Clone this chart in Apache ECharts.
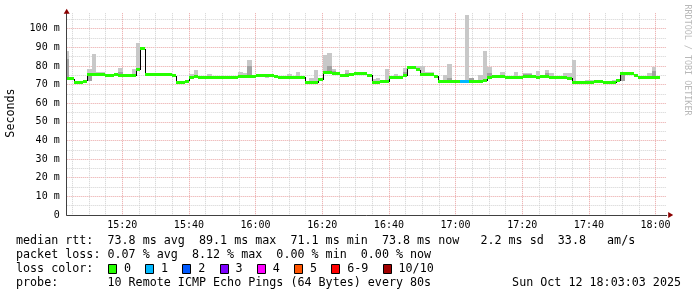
<!DOCTYPE html>
<html><head><meta charset="utf-8">
<script src="https://cdn.jsdelivr.net/npm/echarts@6/dist/echarts.min.js"></script>
<style>html,body{margin:0;padding:0;background:#fff;}#c{width:697px;height:297px;}</style>
</head><body><div id="c"></div>
<script>
// ---- data (seconds after 15:00:00; one sample every 80 s) ----
const sampleStart = 168;      // first sample bucket starts 15:02:48
const sampleStep = 80;
const axisStart = 200;        // 15:03:20
const axisEnd = 11000;        // 18:03:20

const median = [73.5,73.0,71.1,71.1,71.8,75.5,75.5,75.5,75.5,74.6,
 74.6,75.2,74.8,74.8,74.8,74.8,78.0,89.1,75.5,75.5,
 75.5,75.5,75.5,75.5,74.6,71.1,71.1,71.8,74.0,74.4,
 73.8,73.8,73.8,73.8,73.8,73.8,73.8,73.8,73.8,74.2,
 74.2,74.2,74.2,75.1,75.1,75.1,75.1,74.3,73.8,73.8,
 73.8,73.8,73.8,73.8,71.1,71.1,71.1,72.5,76.6,76.3,
 75.8,75.8,75.0,75.0,75.4,75.8,75.8,75.8,75.1,71.2,
 71.1,71.5,71.5,74.0,74.0,74.0,74.8,78.9,78.9,78.0,
 75.2,75.2,75.2,74.5,71.4,71.4,71.4,71.4,71.4,71.4,
 71.4,71.4,71.4,71.4,72.1,73.9,74.2,74.2,74.2,73.9,
 73.9,73.9,74.0,74.5,74.5,74.2,73.7,74.2,74.2,73.9,
 73.9,73.9,73.9,73.3,71.2,71.2,71.2,71.3,71.3,71.6,
 71.6,71.1,71.1,71.1,72.0,75.9,75.9,75.8,74.6,73.8,
 73.8,73.8,73.8,73.8];

const pingMax = [88.0,73.0,71.1,71.1,71.8,78.4,86.4,76.8,76.5,74.6,
 74.6,76.0,78.9,74.8,74.8,78.3,92.3,89.1,75.5,75.5,
 75.5,75.5,75.5,75.5,74.6,71.1,71.1,71.8,75.5,77.8,
 73.8,73.8,75.6,73.8,73.8,73.8,73.8,73.8,73.8,77.0,
 76.0,83.2,74.2,75.1,75.1,75.1,75.1,74.3,73.8,73.8,
 75.8,73.8,77.0,74.5,71.1,73.5,77.8,72.5,85.9,87.1,
 78.6,75.8,75.0,77.8,75.4,75.8,76.8,76.5,75.1,73.0,
 73.4,72.7,78.4,74.0,75.9,74.0,79.0,78.9,78.9,80.2,
 80.0,77.0,77.0,74.5,71.4,75.0,81.0,71.4,71.4,71.4,
 107.3,73.7,71.4,75.2,88.0,79.4,74.2,75.1,76.8,73.9,
 73.9,76.9,74.0,76.2,76.2,74.2,77.4,75.0,77.9,76.4,
 73.9,73.9,76.0,76.4,83.2,71.2,71.2,72.6,72.6,71.6,
 71.6,71.1,71.1,72.6,72.0,75.9,75.9,75.8,74.6,73.8,
 73.8,76.0,79.5,73.8];

const pingMin = [73.0,73.0,71.1,71.1,71.8,71.9,75.0,75.5,75.5,74.6,
 74.6,75.2,74.8,74.8,74.8,74.8,77.5,89.1,75.5,75.5,
 75.5,75.5,75.5,75.5,74.6,71.1,71.1,71.8,74.0,74.4,
 73.8,73.8,73.8,73.8,73.8,73.8,73.8,73.8,73.8,74.2,
 74.2,74.2,74.2,75.1,75.1,73.4,75.1,74.3,73.8,73.8,
 73.8,73.8,73.8,73.8,71.1,71.1,71.1,72.5,75.5,76.3,
 75.8,75.8,75.0,75.0,75.4,75.8,75.8,75.8,75.1,71.2,
 71.1,71.5,71.5,74.0,74.0,74.0,74.8,78.9,78.9,78.0,
 75.2,75.2,75.2,74.5,71.4,71.4,71.4,71.4,71.4,71.4,
 71.4,71.4,71.4,71.4,72.1,73.9,74.2,74.2,74.2,73.9,
 73.9,73.9,74.0,74.5,74.5,74.2,73.7,74.2,74.2,73.9,
 73.9,73.9,73.9,73.3,71.2,71.2,71.2,71.3,71.3,71.6,
 71.6,71.1,71.1,71.1,72.0,71.8,75.9,75.8,74.6,73.8,
 73.8,73.8,73.8,73.8];

// inner (darker) smoke band
const innerBucket = [0,5,12,41,59,60,63,76,86,91,95,103,104,108,125,132];
const innerLow  = [74.0,71.9,74.8,74.2,76.3,75.8,75.0,74.8,71.4,71.4,73.9,74.5,74.5,74.2,71.8,73.8];
const innerHigh = [83.7,75.5,76.5,80.0,80.0,77.5,76.2,77.0,73.4,73.4,76.0,75.8,75.8,76.2,75.9,77.5];

// lost pings (out of 10) per sample
const lossPings = [0,0,0,0,0,0,0,0,0,0, 0,0,0,0,0,0,0,0,0,0,
 0,0,0,0,0,0,0,0,0,0, 0,0,0,0,0,0,0,0,0,0,
 0,0,0,0,0,0,0,0,0,0, 0,0,0,0,0,0,0,0,0,0,
 0,0,0,0,0,0,0,0,0,0, 0,0,0,0,0,0,0,0,0,0,
 0,0,0,0,0,0,0,0,0,1, 1,0,0,0,0,0,0,0,0,0,
 0,0,0,0,0,0,0,0,0,0, 0,0,0,0,0,0,0,0,0,0,
 0,0,0,0,0,0,0,0,0,0, 0,0,0,0];

const lossLabels = ['0','1','2','3','4','5','6-9','10/10'];
const lossColors = ['#26ff00','#00b8ff','#0059ff','#7e00ff','#ff00ff','#ff5500','#ff0000','#a10000'];

const statLines = [
 'median rtt:  73.8 ms avg  89.1 ms max  71.1 ms min  73.8 ms now   2.2 ms sd  33.8   am/s',
 'packet loss: 0.07 % avg  8.12 % max  0.00 % min  0.00 % now'
];
const probeLine = 'probe:       10 Remote ICMP Echo Pings (64 Bytes) every 80s';
const dateLine = 'Sun Oct 12 18:03:03 2025';
const lossTitle = 'loss color:';

// ---- chart ----
const FONT = '"DejaVu Sans Mono", monospace';
const LFONT = '11.7px "DejaVu Sans Mono", monospace';
const CW = 7.07;
const minorC = '#d2d2d2', majorC = '#e9a4a4', noneC = 'rgba(0,0,0,0)';
const xLineColors = [noneC, minorC, noneC, noneC, minorC, noneC, noneC, minorC, noneC, noneC, majorC, noneC];

function lossClass(n){ return n <= 5 ? n : (n < 10 ? 6 : 7); }
function clockLabel(sec){ const m = Math.round(sec/60); return (15 + Math.floor(m/60)) + ':' + String(m % 60).padStart(2,'0'); }
function span(api, i, cs){
  const t0 = sampleStart + i * sampleStep;
  let x0 = Math.round(api.coord([t0, 0])[0]);
  let x1 = Math.round(api.coord([t0 + sampleStep, 0])[0]);
  x0 = Math.max(x0, Math.round(cs.x)); x1 = Math.min(x1, Math.round(cs.x + cs.width));
  return [x0, x1];
}

const seriesData = median.map((v, i) => [sampleStart + i * sampleStep, v]);

const graphics = [];
graphics.push({type:'text', x:11, y:113, rotation:Math.PI/2,
  style:{text:'Seconds', font:LFONT, fill:'#000', align:'center', verticalAlign:'middle'}});
graphics.push({type:'text', x:687, y:60, rotation:-Math.PI/2,
  style:{text:'RRDTOOL / TOBI OETIKER', font:'8.4px "DejaVu Sans Mono", monospace', fill:'#b8b8b8', align:'center', verticalAlign:'middle'}});
statLines.forEach((s, k) => graphics.push({type:'text', x:16, y:241 + 14*k,
  style:{text:s, font:LFONT, fill:'#000', verticalAlign:'middle'}}));
graphics.push({type:'text', x:16, y:269, style:{text:lossTitle, font:LFONT, fill:'#000', verticalAlign:'middle'}});
let bx = 16 + 13 * CW;
lossLabels.forEach((lab, k) => {
  graphics.push({type:'rect', shape:{x:Math.round(bx)+0.5, y:264.5, width:8, height:9},
    style:{fill:lossColors[k], stroke:'#000', lineWidth:1}});
  const lx = bx + 16;
  graphics.push({type:'text', x:lx, y:269, style:{text:lab, font:LFONT, fill:'#000', verticalAlign:'middle'}});
  bx = lx + (lab.length + 2) * CW;
});
graphics.push({type:'text', x:16, y:283, style:{text:probeLine, font:LFONT, fill:'#000', verticalAlign:'middle'}});
graphics.push({type:'text', x:681, y:283, style:{text:dateLine, font:LFONT, fill:'#000', align:'right', verticalAlign:'middle'}});

const chart = echarts.init(document.getElementById('c'));
chart.setOption({
  animation:false,
  backgroundColor:'#ffffff',
  grid:{left:66.7, right:30.3, top:13.2, bottom:82, containLabel:false, outerBoundsMode:'none'},
  xAxis:[{
    type:'value', min:axisStart, max:axisEnd, interval:100,
    axisLine:{onZero:false, lineStyle:{color:'#404040', width:1}},
    axisTick:{show:false},
    axisLabel:{margin:5, fontFamily:FONT, fontSize:10, color:'#000', showMinLabel:true, showMaxLabel:true,
      formatter: v => (v % 1200 === 0 ? clockLabel(v) : '')},
    splitLine:{show:true, lineStyle:{color:xLineColors, type:[1,1], width:1}}
  },{
    type:'value', min:axisStart, max:axisEnd, position:'bottom',
    axisLine:{show:true, onZero:false, symbol:['none','triangle'], symbolSize:[6,5], symbolOffset:[0,4],
      lineStyle:{color:'#8b0000', width:0}},
    axisTick:{show:false}, axisLabel:{show:false}, splitLine:{show:false}
  }],
  yAxis:[{
    type:'value', min:0, max:108.3, interval:5,
    axisLine:{show:true, lineStyle:{color:'#404040', width:1}},
    axisTick:{show:false},
    axisLabel:{margin:7, fontFamily:FONT, fontSize:10, color:'#000',
      formatter: v => (v % 10 === 0 ? (v === 0 ? '0' : v + ' m') : '')},
    splitLine:{show:true, showMaxLine:false, lineStyle:{color:[majorC, minorC], type:[1,1], width:1}}
  },{
    type:'value', min:0, max:108.3, position:'left',
    axisLine:{show:true, symbol:['none','triangle'], symbolSize:[6,5], symbolOffset:[0,2],
      lineStyle:{color:'#8b0000', width:0}},
    axisTick:{show:false}, axisLabel:{show:false}, splitLine:{show:false}
  }],
  series:[{
    type:'custom', name:'smoke', data:seriesData, silent:true,
    renderItem(params, api){
      const i = params.dataIndex, cs = params.coordSys;
      const [x0, x1] = span(api, i, cs);
      const ch = [];
      const yT = Math.round(api.coord([axisStart, pingMax[i]])[1]);
      const yB = Math.round(api.coord([axisStart, pingMin[i]])[1]);
      if (yB > yT) ch.push({type:'rect', shape:{x:x0, y:yT, width:x1-x0, height:yB-yT}, style:{fill:'#c8c8c8'}});
      const k = innerBucket.indexOf(i);
      if (k >= 0) {
        const a = Math.round(api.coord([axisStart, innerHigh[k]])[1]);
        const b = Math.round(api.coord([axisStart, innerLow[k]])[1]);
        ch.push({type:'rect', shape:{x:x0, y:a, width:x1-x0, height:b-a}, style:{fill:'#a2a2a2'}});
      }
      return {type:'group', children:ch};
    }
  },{
    type:'custom', name:'median', data:seriesData, silent:true,
    renderItem(params, api){
      const i = params.dataIndex, cs = params.coordSys;
      const [x0, x1] = span(api, i, cs);
      const y = api.coord([axisStart, median[i]])[1];
      const ch = [];
      if (i > 0 && median[i] !== median[i-1]) {
        const yp = api.coord([axisStart, median[i-1]])[1];
        ch.push({type:'line', shape:{x1:x0+0.5, y1:Math.round(yp), x2:x0+0.5, y2:Math.round(y)},
          style:{stroke:'#000', lineWidth:1}});
      }
      ch.push({type:'rect', shape:{x:x0, y:Math.round(y-1.5), width:x1-x0, height:3},
        style:{fill:lossColors[lossClass(lossPings[i])]}});
      return {type:'group', children:ch};
    }
  }],
  graphic:graphics
});
</script></body></html>
